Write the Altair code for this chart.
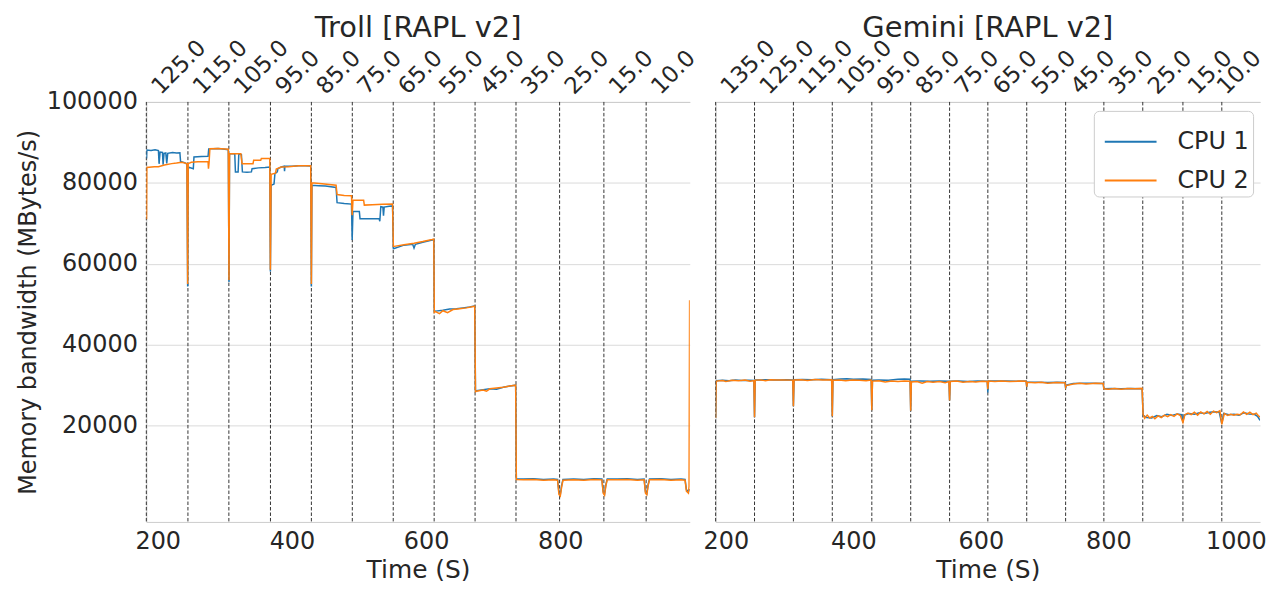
import altair as alt
import pandas as pd

FONT = "DejaVu Sans"
TXT = "#262626"
GRID = "#dadada"
SPINE = "#cccccc"

# ---------------- power-cap markers (top axis) ----------------
troll_caps_t = [183, 245, 306, 368, 429, 490, 551, 612, 673, 734, 799, 865, 928]
troll_caps = ["125.0", "115.0", "105.0", "95.0", "85.0", "75.0", "65.0",
              "55.0", "45.0", "35.0", "25.0", "15.0", "10.0"]
gemini_caps_t = [184, 245, 306, 367, 429, 490, 551, 611, 672, 733, 793, 854, 917, 978]
gemini_caps = ["135.0", "125.0", "115.0", "105.0", "95.0", "85.0", "75.0", "65.0",
               "55.0", "45.0", "35.0", "25.0", "15.0", "10.0"]

# ---------------- Troll measurements (time s, MBytes/s) ----------------
troll_cpu1 = [
    (183.3, 86000), (183.7, 88100), (190, 88000), (196, 88200), (201, 88000), (202, 84700),
    (203.5, 87600), (207, 87500), (208, 84500), (209.4, 87300), (212, 87400), (213.4, 84800),
    (214.9, 87300), (222, 87500), (228, 87400), (233, 87450), (234, 85300), (240, 85000),
    (243.5, 84600), (244.6, 54400), (245.4, 83900), (253, 83500), (254, 86400), (265, 86500),
    (275, 86550), (276, 88400), (290, 88500), (300, 88300), (305.2, 88200), (306.2, 55500),
    (307, 87200), (314.8, 87200), (315.8, 82700), (319.8, 82700), (320.8, 87100), (324.7, 87000),
    (326.2, 82700), (333, 82600), (339.6, 82700), (340.6, 83500), (350, 83700), (360, 83800),
    (367, 83900), (367.9, 58100), (369, 79400), (373.3, 79700), (374.7, 82300), (378.2, 82700),
    (379.2, 83500), (384, 83900), (388.5, 84100), (389, 82900), (389.6, 84100), (400, 84100),
    (410, 84200), (420, 84200), (428, 84150), (429, 54400), (429.8, 79400), (440, 79300),
    (450, 79200), (465.8, 78850), (467.3, 75100), (478, 74900), (488.8, 74750), (489.8, 65900),
    (491, 73000), (500.5, 72900), (501.5, 71150), (515, 71100), (530, 71100), (531, 70500),
    (532.5, 74100), (535.6, 74000), (536.5, 71900), (537.5, 74000), (545, 74200), (550, 74300),
    (551.2, 63800), (552.5, 63800), (567, 64600), (580, 64800), (582, 63900), (584, 64800),
    (595, 65300), (609, 65900), (611.5, 66000), (612.2, 48300), (614, 48300), (625, 48500),
    (635, 48800), (645, 48900), (655, 49100), (665, 49300), (672.5, 49600), (673.6, 28500),
    (675, 28600), (685, 28900), (695, 29100), (705, 29000), (715, 29500), (725, 29800),
    (733.5, 30000), (734.5, 6900), (745, 6800), (760, 6900), (775, 6700), (790, 6800),
    (796, 6700), (798, 3400), (800, 2900), (802, 5200), (804, 6700), (820, 6800), (835, 6700),
    (850, 6900), (862, 6800), (864, 3600), (866, 3100), (868, 5500), (870, 6800), (885, 6800),
    (900, 6900), (915, 6700), (925, 6800), (927, 3600), (929, 3200), (931, 5500), (933, 6800),
    (950, 6900), (965, 6700), (980, 6800), (986, 6700), (988, 4200), (991, 3600), (992.5, 4300),
]
troll_cpu2 = [
    (183.3, 71000), (183.7, 83800), (195, 84000), (201, 84000), (210, 84400), (220.8, 84750),
    (228, 84900), (235.6, 85100), (243.5, 84750), (244.6, 55000), (245.4, 84750), (250, 85100),
    (260, 85200), (275, 85200), (275.6, 83500), (276.5, 85000), (277.7, 88440), (290, 88500),
    (305.2, 88300), (306.2, 56000), (307, 87200), (323.8, 87200), (325.7, 84750), (342, 84750),
    (343, 85600), (353.5, 85600), (354.4, 86000), (367, 86000), (367.9, 58500), (369, 82100),
    (375.5, 82400), (376.7, 83400), (384, 83900), (395, 84000), (410, 84200), (428, 84200),
    (429, 55000), (429.8, 80000), (445, 79800), (465.8, 79400), (467.3, 77100), (478, 76900),
    (488.8, 76800), (489.8, 72000), (491, 75700), (506.9, 75700), (507.9, 74500), (520, 74600),
    (535, 74700), (550, 74750), (551.2, 64300), (552.5, 64300), (567, 64700), (582, 65100),
    (595, 65500), (609, 66000), (611.5, 66100), (612.2, 48000), (614, 48200), (620, 47700),
    (625, 48400), (632, 47900), (640, 48700), (650, 48900), (660, 49100), (672.5, 49500),
    (673.6, 28400), (675, 28500), (685, 28800), (690, 28500), (695, 29100), (705, 29300),
    (715, 29500), (725, 29800), (733.5, 30000), (734.5, 6700), (745, 6600), (760, 6700),
    (775, 6500), (790, 6600), (796, 6500), (798, 3000), (800, 2600), (802, 4800), (804, 6500),
    (820, 6600), (835, 6500), (850, 6700), (862, 6600), (864, 3300), (866, 2800), (868, 5200),
    (870, 6600), (885, 6600), (900, 6700), (915, 6500), (925, 6600), (927, 3300), (929, 2900),
    (931, 5200), (933, 6600), (950, 6700), (965, 6500), (980, 6600), (986, 6500), (988, 3800),
    (991, 3300), (992, 5000), (992.8, 51000),
]

# ---------------- Gemini measurements ----------------
gemini_cpu1 = [
    (184, 22000), (184.8, 31100), (195, 31200), (205, 31100), (215, 31250), (225, 31150),
    (235, 31200), (244, 31150), (245, 22100), (246, 31300), (255, 31300), (265, 31350),
    (275, 31250), (285, 31300), (295, 31350), (305, 31300), (306, 24800), (307, 31350),
    (320, 31400), (335, 31350), (350, 31450), (366, 31350), (367, 22300), (368, 31350),
    (380, 31500), (390, 31600), (400, 31450), (415, 31550), (428, 31400), (429, 23800),
    (430, 31200), (440, 31300), (455, 31200), (470, 31450), (480, 31550), (489, 31450),
    (490, 23700), (491, 31000), (505, 31050), (520, 30950), (535, 31000), (550, 30950),
    (551, 26200), (552, 30950), (565, 31000), (580, 30900), (595, 31000), (610, 30950),
    (611, 28200), (612, 31000), (625, 31000), (640, 31050), (655, 30950), (671, 31000),
    (672, 29600), (673, 30700), (690, 30750), (705, 30650), (720, 30700), (732, 30650),
    (733, 29200), (734, 30000), (745, 30400), (760, 30450), (775, 30500), (792, 30400),
    (793, 29100), (805, 29200), (820, 29100), (835, 29150), (853, 29100), (854.5, 22600),
    (860, 22000), (868, 21900), (876, 22500), (884, 22200), (892, 22800), (900, 22500),
    (908, 22900), (915, 22700), (917, 21000), (919, 22600), (927, 23000), (935, 22800),
    (943, 23200), (951, 23000), (959, 23300), (967, 23400), (974, 23300), (978, 20500),
    (981, 23000), (989, 22700), (997, 22800), (1005, 22600), (1013, 23200), (1021, 22900),
    (1029, 22800), (1034, 22300), (1038, 21300),
]
gemini_cpu2 = [
    (184, 21900), (184.8, 31000), (195, 31150), (200, 30900), (210, 31200), (220, 31100),
    (230, 31250), (238, 31000), (244, 31150), (245, 22100), (246, 31250), (255, 31300),
    (262, 31100), (270, 31350), (280, 31250), (290, 31300), (305, 31250), (306, 24800),
    (307, 31300), (318, 31350), (328, 31150), (340, 31400), (352, 31300), (366, 31350),
    (367, 22300), (368, 31200), (378, 31300), (388, 31100), (398, 31300), (410, 31200),
    (420, 31100), (428, 31250), (429, 23800), (430, 31000), (440, 31100), (450, 30800),
    (460, 31050), (470, 30900), (480, 31000), (489, 30950), (490, 23700), (491, 30800),
    (500, 30900), (508, 30500), (516, 30900), (525, 30700), (535, 30900), (544, 30600),
    (550, 30900), (551, 26200), (552, 30900), (562, 31000), (572, 30700), (582, 30900),
    (592, 30800), (602, 30950), (610, 30900), (611, 29000), (612, 31000), (622, 30900),
    (632, 31050), (645, 30900), (660, 31000), (671, 30950), (672, 29600), (673, 30700),
    (685, 30600), (695, 30700), (705, 30500), (718, 30650), (732, 30600), (733, 29500),
    (734, 29900), (745, 30300), (755, 30500), (765, 30300), (780, 30500), (792, 30400),
    (793, 29100), (800, 29000), (810, 29200), (820, 29000), (830, 29200), (842, 29100),
    (853, 29200), (854.5, 22800), (857, 21800), (861, 22600), (865, 21900), (869, 22300),
    (873, 21700), (878, 22400), (883, 22000), (888, 22600), (893, 22200), (898, 22700),
    (903, 22300), (908, 22900), (913, 22500), (917, 20800), (920, 22700), (925, 23100),
    (930, 22700), (935, 23300), (940, 22600), (945, 23400), (950, 22900), (955, 23500),
    (960, 22800), (965, 23600), (970, 23200), (975, 23700), (978, 20300), (982, 23000),
    (987, 22500), (992, 22800), (997, 22600), (1002, 22800), (1007, 22700), (1012, 23400),
    (1017, 22800), (1022, 23300), (1027, 22700), (1032, 23100), (1035, 22500), (1038, 22100),
]

series_names = ["CPU 1", "CPU 2"]
series_colors = ["#1f77b4", "#ff7f0e"]
y_ticks = [20000, 40000, 60000, 80000, 100000]
y_domain = [-3800, 100000]


def long_df(cpu1, cpu2):
    rows = []
    for i, (t, v) in enumerate(cpu1):
        rows.append({"t": t, "bw": v, "cpu": "CPU 1", "i": i})
    for i, (t, v) in enumerate(cpu2):
        rows.append({"t": t, "bw": v, "cpu": "CPU 2", "i": i})
    return pd.DataFrame(rows)


def label_expr(vals, labels):
    arr_l = ",".join("'%s'" % s for s in labels)
    arr_v = ",".join(str(v) for v in vals)
    return "[%s][indexof([%s], datum.value)]" % (arr_l, arr_v)


def panel(title, cpu1, cpu2, caps_t, caps, xdom, xticks, width, first, legend):
    xscale = alt.Scale(domain=xdom, nice=False, zero=False)
    caps_df = pd.DataFrame({"t": caps_t, "cap": caps})

    if first:
        top_offset = 9
    else:
        # keep the last (edge) label inside the picture
        top_offset = {"condition": {"test": "datum.value == %s" % caps_t[-1], "value": -1},
                      "value": 9}

    rules = alt.Chart(caps_df).mark_rule(
        color="#333333", strokeWidth=1, strokeDash=[3.5, 2]
    ).encode(
        x=alt.X("t:Q", scale=xscale, axis=alt.Axis(
            orient="top", values=caps_t, labelExpr=label_expr(caps_t, caps),
            labelAngle=-45, labelAlign="left", labelBaseline="middle",
            labelPadding=12, labelOffset=top_offset, labelFontSize=23, labelOverlap=False,
            labelFlush=False, ticks=False, grid=False, domainColor=SPINE, title=None))
    )

    if first:
        yaxis = alt.Axis(values=y_ticks, format="d", labelFontSize=24, labelPadding=9,
                         title="Memory bandwidth (MBytes/s)", titleFontSize=24,
                         titleFontWeight="normal", titlePadding=6, ticks=False,
                         domainColor=SPINE, gridColor=GRID)
    else:
        yaxis = alt.Axis(values=y_ticks, labels=False, title=None, ticks=False,
                         domainColor=SPINE, gridColor=GRID)

    if legend:
        leg = alt.Legend(orient="none", legendX=380, legendY=9, title=None,
                         labelFontSize=24, labelFont=FONT, labelColor=TXT,
                         labelExpr="datum.label + '\u00a0'",
                         symbolType="stroke", symbolSize=2704, symbolStrokeWidth=2,
                         symbolOffset=6, strokeColor=SPINE, fillColor="white",
                         cornerRadius=5, padding=4, rowPadding=-6, labelOffset=20)
    else:
        leg = None

    lines = alt.Chart(long_df(cpu1, cpu2)).mark_line(strokeWidth=1.5, clip=True).encode(
        x=alt.X("t:Q", scale=xscale, axis=alt.Axis(
            orient="bottom", values=xticks, format="d", labelFontSize=24, labelPadding=8,
            labelFlush=False, title="Time (S)", titleFontSize=25, titleFontWeight="normal",
            titlePadding=4, ticks=False, domainColor=SPINE, gridColor=GRID)),
        y=alt.Y("bw:Q", scale=alt.Scale(domain=y_domain, nice=False, zero=False), axis=yaxis),
        color=alt.Color("cpu:N", scale=alt.Scale(domain=series_names, range=series_colors),
                        legend=leg),
        order="i:Q",
    )

    return alt.layer(rules, lines).resolve_axis(x="independent").properties(
        width=width, height=422,
        title=alt.Title(title, fontSize=29, font=FONT, fontWeight="normal", color=TXT,
                        anchor="middle", frame="group", offset=-7),
    )


left = panel("Troll [RAPL v2]", troll_cpu1, troll_cpu2, troll_caps_t, troll_caps,
             [183, 993], [200, 400, 600, 800], 546, True, False)
right = panel("Gemini [RAPL v2]", gemini_cpu1, gemini_cpu2, gemini_caps_t, gemini_caps,
              [184, 1038], [200, 400, 600, 800, 1000], 547, False, True)

chart = alt.hconcat(left, right, spacing=26, bounds="flush").resolve_legend(
    color="independent"
).properties(
    padding={"left": 7, "top": 4, "right": 3, "bottom": 0},
    background="white",
).configure_axis(
    labelFont=FONT, titleFont=FONT, labelColor=TXT, titleColor=TXT
).configure_view(stroke="transparent")

chart.save("out.html", embed_options={"renderer": "svg", "actions": False})
